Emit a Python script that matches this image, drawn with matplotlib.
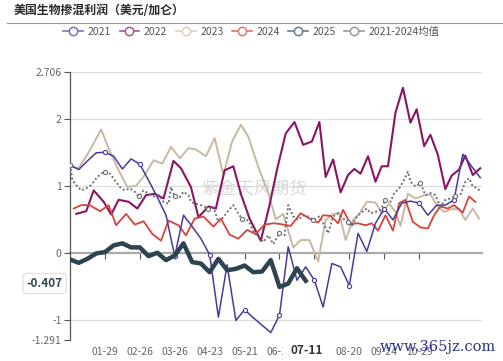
import matplotlib
matplotlib.use("Agg")
import matplotlib.pyplot as plt
from matplotlib.lines import Line2D
import numpy as np

plt.rcParams['font.family'] = ['Noto Sans CJK SC', 'DejaVu Sans']

# x positions are in weeks since 01-01 (one category per week)
tick_pos = [4, 8, 12, 16, 20, 24, 28, 32, 36, 40]
tick_labels = ['01-29', '02-26', '03-26', '04-23', '05-21', '06-18', '07-16', '08-20', '09-24', '10-29']

y2021 = [1.32, 1.25, 1.38, 1.50, 1.51, 1.45, 1.26, 1.41, 1.33, 1.09, 0.84, 0.57, -0.04, 0.57, 0.40, 0.22,
         -0.02, -0.95, -0.17, -1.00, -0.84, -0.96, -1.07, -1.18, -0.92, 0.10, -0.40, -0.20, -0.40, -0.80,
         -0.15, -0.20, -0.48, 0.30, 0.03, 0.45, 0.67, 0.50, 0.75, 0.78, 0.75, 0.57, 0.72, 0.72, 0.80, 1.48,
         1.30, 1.13]

d2022 = [5, 13, 19, 27, 33, 39, 47, 54, 61, 68, 75, 83, 89, 97, 103, 111, 117, 124, 131, 137, 144, 153,
         160, 166, 173, 180, 187, 194, 200, 205, 211, 217, 223, 228, 233, 239, 245, 250, 255, 261, 267,
         273, 278, 284, 289, 295, 301, 306, 312, 317, 323, 329]
y2022 = [0.59, 0.63, 0.94, 0.77, 0.58, 0.80, 0.77, 0.67, 0.87, 0.89, 0.82, 1.38, 1.27, 0.99, 0.54, 0.70,
         0.67, 1.24, 1.30, 0.89, 0.52, 0.19, 0.72, 1.25, 1.79, 1.96, 1.62, 1.67, 1.96, 1.14, 1.40, 0.91,
         1.17, 1.26, 1.19, 1.45, 1.07, 1.30, 1.30, 2.10, 2.47, 1.95, 2.15, 1.60, 1.77, 1.47, 0.96, 1.16,
         1.25, 1.46, 1.17, 1.27]

d2023 = [0, 7, 16, 25, 32, 39, 46, 53, 60, 67, 74, 81, 88, 95, 101, 109, 116, 123, 130, 137, 143, 151,
         159, 165, 171, 179, 185, 192, 199, 205, 211, 216, 221, 227, 232, 238, 245, 250, 256, 261, 265,
         271, 277, 283, 289, 295, 300, 306, 312, 317, 323, 328]
y2023 = [1.30, 1.27, 1.54, 1.85, 1.52, 1.24, 0.99, 1.01, 1.17, 1.39, 1.34, 1.59, 1.42, 1.57, 1.55, 1.45,
         1.72, 1.17, 1.67, 1.92, 1.74, 1.29, 0.90, 0.51, 0.59, 0.09, 0.20, 0.20, -0.12, 0.50, 0.59, 0.60,
         0.20, 0.50, 0.59, 0.77, 0.76, 0.60, 0.74, 0.62, 0.41, 0.89, 0.82, 0.86, 0.88, 0.70, 0.62, 0.66,
         0.66, 0.50, 0.67, 0.52]

d2024 = [3, 9, 16, 24, 31, 37, 45, 52, 59, 66, 73, 79, 87, 93, 100, 107, 115, 121, 128, 135, 142, 149,
         156, 163, 168, 177, 185, 192, 199, 203, 209, 215, 219, 225, 231, 237, 242, 247, 253, 259, 264,
         269, 275, 281, 287, 292, 297, 303, 308, 315, 320, 325]
y2024 = [0.67, 0.72, 0.72, 0.63, 0.72, 0.42, 0.59, 0.43, 0.48, 0.29, 0.19, 0.49, 0.42, 0.27, 0.52, 0.55,
         0.40, 0.52, 0.28, 0.22, 0.35, 0.29, 0.43, 0.45, 0.44, 0.41, 0.60, 0.52, 0.46, 0.57, 0.56, 0.45,
         0.65, 0.44, 0.45, 0.42, 0.45, 0.34, 0.57, 0.34, 0.75, 0.80, 0.47, 0.39, 0.37, 0.57, 0.70, 0.67,
         0.72, 0.61, 0.85, 0.77]

y2025 = [-0.09, -0.14, -0.08, 0.00, 0.02, 0.12, 0.15, 0.09, 0.09, -0.04, 0.01, -0.10, -0.03, 0.15,
         -0.13, -0.15, -0.28, -0.08, -0.25, -0.23, -0.18, -0.28, -0.27, -0.10, -0.50, -0.45, -0.22, -0.407]

d_avg = [0, 2, 5, 9, 13, 17, 21, 25, 28, 32, 36, 40, 44, 48, 52, 55, 59, 63, 67, 71, 75, 79, 81, 84, 88,
         91, 95, 97, 101, 105, 111, 115, 119, 123, 127, 131, 135, 138, 143, 147, 151, 155, 159, 163, 168,
         172, 175, 179, 183, 187, 191, 195, 200, 204, 207, 211, 215, 219, 223, 226, 230, 233, 238, 241,
         245, 249, 253, 257, 260, 264, 268, 271, 273, 277, 281, 285, 289, 293, 297, 301, 305, 309, 313,
         317, 320, 323, 327, 329]
y_avg = [1.32, 1.09, 1.02, 0.94, 0.97, 1.02, 1.12, 1.19, 1.22, 1.19, 1.09, 0.99, 0.94, 0.97, 0.92, 0.85,
         0.94, 0.89, 0.85, 0.87, 0.77, 0.74, 0.99, 0.85, 0.84, 0.92, 0.87, 0.77, 0.74, 0.72, 0.67, 0.69,
         0.47, 0.54, 0.64, 0.72, 0.59, 0.52, 0.49, 0.34, 0.24, 0.17, 0.27, 0.14, 0.30, 0.27, 0.72, 0.55,
         0.50, 0.57, 0.55, 0.50, 0.55, 0.42, 0.30, 0.55, 0.60, 0.52, 0.47, 0.40, 0.55, 0.60, 0.67, 0.60,
         0.62, 0.65, 0.80, 0.77, 0.90, 0.97, 1.10, 1.22, 1.07, 1.00, 1.05, 0.87, 0.90, 0.87, 0.70, 0.80,
         0.82, 0.85, 0.87, 1.07, 1.12, 1.00, 0.97, 0.92]

ymin, ymax = -1.291, 2.706
last_label = '07-11'

x2021 = np.arange(len(y2021))
x2022 = np.array(d2022) / 7
x2023 = np.array(d2023) / 7
x2024 = np.array(d2024) / 7
x2025 = np.arange(len(y2025))
x_avg = np.array(d_avg) / 7

fig = plt.figure(figsize=(5.03, 3.61), dpi=100)
ax = fig.add_axes([70 / 503, 1 - 340 / 361, 412 / 503, 268 / 361])

c21, c22, c23, c24, c25, cav = '#4a3a9c', '#8a1465', '#c9b8a2', '#d8433a', '#2d4450', '#707070'

ax.plot(x2021, y2021, color=c21, lw=1.1, marker='o', ms=3, mfc='white', mec=c21, mew=0.8,
        markevery=4, zorder=4)
ax.plot(x2022, y2022, color=c22, lw=1.5, zorder=3)
ax.plot(x2023, y2023, color=c23, lw=1.4, zorder=2)
ax.plot(x2024, y2024, color=c24, lw=1.3, zorder=3)
ax.plot(x2025, y2025, color=c25, lw=3.2, zorder=6, solid_joinstyle='round')
avg_marks = [int(np.argmin(np.abs(x_avg - k))) for k in range(0, 48, 4)]
ax.plot(x_avg, y_avg, color=cav, lw=1.4, ls=(0, (1, 1.2)), marker='o', ms=3, mfc='white', mec=cav,
        mew=0.8, markevery=avg_marks, zorder=5)

ax.set_xlim(0, 47.2)
ax.set_ylim(ymin, ymax)

for s in ['top', 'right', 'bottom']:
    ax.spines[s].set_visible(False)
ax.spines['left'].set_color('#555555')
ax.spines['left'].set_linewidth(0.9)

ax.set_yticks([ymin, -1, 0, 1, 2, ymax])
ax.set_yticklabels(['-1.291', '-1', '0', '1', '2', '2.706'])
ax.tick_params(axis='y', length=4, width=0.8, color='#555555', labelcolor='#666666', labelsize=7.5, pad=2)
ax.yaxis.grid(True, color='#dddddd', lw=0.9)
gl = ax.get_ygridlines()
gl[0].set_visible(False)
gl[2].set_visible(False)
ax.set_axisbelow(True)

ax.set_xticks(tick_pos)
ax.set_xticklabels(tick_labels)
ax.tick_params(axis='x', length=0, labelcolor='#666666', labelsize=7.5, pad=5)

# zero line carrying the tick marks
zero_frac = (0 - ymin) / (ymax - ymin)
sec = ax.secondary_xaxis(zero_frac)
sec.set_xticks(tick_pos)
sec.set_xticklabels([])
sec.spines['bottom'].set_color('#aaaaaa')
sec.spines['bottom'].set_linewidth(1.6)
sec.tick_params(axis='x', length=4, width=0.8, color='#555555')

# pointer labels
ax.text(-0.018, y2025[-1] - 0.04, f'{y2025[-1]:.3f}', transform=ax.get_yaxis_transform(), ha='right',
        va='center', fontsize=8.5, fontweight='bold', color=c25,
        bbox=dict(boxstyle='round,pad=0.3', fc='white', ec='#dddddd', lw=0.8), clip_on=False, zorder=10)
ax.text(x2025[-1] + 0.1, -0.04, last_label, transform=ax.get_xaxis_transform(), ha='center', va='center',
        fontsize=8.5, fontweight='bold', color='#333333',
        bbox=dict(boxstyle='square,pad=0.6', fc='white', ec='none'), clip_on=False, zorder=10)

# watermarks
ax.text(0.448, 0.56, '紫金天风期货', transform=ax.transAxes, ha='center', va='center', fontsize=12.7,
        color='#d0d0d0', alpha=0.8, zorder=1)
fig.text(380 / 503, 1 - 347 / 361, 'www.365jz.com', ha='left', va='center', fontsize=10.5,
         family='DejaVu Serif', color='#27348b')

# title and rule
fig.text(14 / 503, 1 - 11 / 361, '美国生物掺混利润（美元/加仑）', ha='left', va='center', fontsize=8.6,
         fontweight='bold', color='#2a2a2a')
fig.add_artist(Line2D([7 / 503, 502 / 503], [1 - 23 / 361, 1 - 23 / 361], color='#999999', lw=0.8))

names = ['2021', '2022', '2023', '2024', '2025', '2021-2024均值']
leg_colors = ['#7d6fc0', '#a45a8e', '#dcd0c4', '#e0766e', '#6d7d88', '#999999']
handles = [Line2D([], [], color=c, lw=1.2, marker='o', ms=6, mfc='white', mec=c, mew=1.1) for c in leg_colors]
fig.legend(handles, names, loc='center', bbox_to_anchor=(0.5, 1 - 32 / 361), ncol=6, frameon=False,
           fontsize=7.5, handlelength=1.9, handletextpad=0.45, columnspacing=0.8, labelcolor='#555555')

fig.savefig('out.png', dpi=100)
